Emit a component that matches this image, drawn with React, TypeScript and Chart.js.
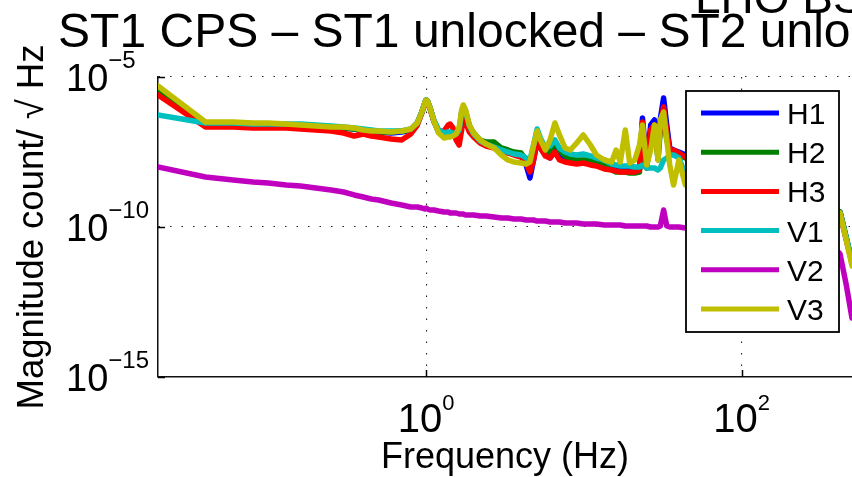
import React, { useEffect, useRef } from "react";
import { Chart, registerables } from "chart.js";

Chart.register(...registerables);

const freqs = [0.02, 0.04, 0.06, 0.08, 0.1, 0.13, 0.16, 0.2, 0.25, 0.3, 0.35, 0.4, 0.45, 0.5, 0.6, 0.7, 0.8, 0.88, 0.94, 0.98, 1.0, 1.02, 1.06, 1.12, 1.2, 1.3, 1.38, 1.42, 1.48, 1.55, 1.62, 1.68, 1.72, 1.78, 1.88, 2.0, 2.2, 2.4, 2.7, 3.0, 3.3, 3.6, 4.0, 4.3, 4.55, 4.8, 5.05, 5.3, 5.7, 6.1, 6.55, 7.0, 7.6, 8.2, 9.0, 9.9, 11, 12, 13.5, 15, 16, 17, 18.3, 19.5, 21, 22.5, 23.5, 25, 26.5, 28, 29.5, 30.5, 32, 33.5, 35, 37, 40, 44, 55, 70, 90, 120, 160, 200, 260, 320, 380, 420, 460, 500];

const h1 = [
  3.41e-6, 2.93e-7, 2.71e-7, 2.71e-7, 2.71e-7, 2.51e-7, 2.33e-7, 2.15e-7, 2.15e-7, 2.0e-7,
  1.85e-7, 1.58e-7, 1.47e-7, 1.47e-7, 1.36e-7, 1.47e-7, 1.71e-7, 2.93e-7, 6.81e-7, 1.36e-6,
  1.71e-6, 1.58e-6, 9.26e-7, 3.41e-7, 1.47e-7, 1.08e-7, 1.26e-7, 1.26e-7, 1.26e-7, 1.08e-7,
  9.26e-8, 6.31e-7, 1.0e-6, 6.81e-7, 2.33e-7, 1.26e-7, 7.36e-8, 5.41e-8, 4.64e-8, 3.69e-8,
  3.16e-8, 2.71e-8, 2.33e-8, 1.17e-8, 4.3e-9, 1.71e-8, 7.94e-8, 4.3e-8, 2.51e-8, 2.0e-8,
  3.69e-8, 2.0e-8, 1.71e-8, 1.58e-8, 1.47e-8, 1.47e-8, 1.36e-8, 1.17e-8, 1.0e-8, 8.58e-9,
  7.94e-9, 7.94e-9, 7.94e-9, 7.36e-9, 7.36e-9, 9.26e-9, 4.3e-7, 1.17e-8, 2.51e-7, 3.69e-7,
  3.69e-8, 3.98e-7, 2.0e-6, 2.51e-7, 4.3e-8, 3.69e-8, 3.16e-8, 2.51e-8, 1.17e-8, 6.81e-9,
  4.3e-9, 2.51e-9, 1.71e-9, 1.17e-9, 7.94e-10, 5.41e-10, 3.98e-10, 3.16e-10, 4.3e-11, 6.81e-12,
];

const h2 = [
  3.98e-6, 2.93e-7, 2.93e-7, 2.71e-7, 2.71e-7, 2.51e-7, 2.51e-7, 2.33e-7, 2.15e-7, 2.0e-7,
  1.85e-7, 1.71e-7, 1.58e-7, 1.47e-7, 1.47e-7, 1.58e-7, 1.71e-7, 2.93e-7, 6.81e-7, 1.36e-6,
  1.71e-6, 1.58e-6, 9.26e-7, 3.41e-7, 1.47e-7, 1.17e-7, 1.26e-7, 1.26e-7, 1.26e-7, 1.08e-7,
  9.26e-8, 6.31e-7, 1.0e-6, 6.81e-7, 2.33e-7, 1.36e-7, 7.94e-8, 6.81e-8, 6.81e-8, 4.3e-8,
  3.69e-8, 3.16e-8, 2.93e-8, 1.71e-8, 7.94e-9, 2.0e-8, 7.94e-8, 4.64e-8, 2.93e-8, 3.16e-8,
  6.81e-8, 3.69e-8, 2.33e-8, 2.0e-8, 1.71e-8, 1.71e-8, 1.71e-8, 1.58e-8, 1.26e-8, 7.94e-9,
  6.81e-9, 6.81e-9, 6.81e-9, 6.31e-9, 6.31e-9, 6.81e-9, 1.71e-7, 9.26e-9, 1.17e-7, 2.51e-7,
  1.71e-8, 1.71e-7, 5.41e-7, 7.94e-8, 3.69e-8, 3.16e-8, 2.51e-8, 2.0e-8, 1.17e-8, 6.81e-9,
  4.3e-9, 2.51e-9, 1.71e-9, 1.17e-9, 7.94e-10, 5.41e-10, 3.98e-10, 3.16e-10, 4.3e-11, 6.81e-12,
];

const h3 = [
  2.51e-6, 2.15e-7, 2.15e-7, 2.0e-7, 2.0e-7, 2.0e-7, 1.85e-7, 1.71e-7, 1.58e-7, 1.36e-7,
  1.08e-7, 1.26e-7, 1.08e-7, 1.0e-7, 8.58e-8, 7.94e-8, 1.26e-7, 2.51e-7, 6.31e-7, 1.26e-6,
  1.58e-6, 1.47e-6, 8.58e-7, 3.41e-7, 1.58e-7, 1.58e-7, 2.51e-7, 2.71e-7, 2.0e-7, 7.94e-8,
  5.41e-8, 1.71e-7, 4.3e-7, 3.16e-7, 1.47e-7, 1.0e-7, 6.31e-8, 5.01e-8, 4.3e-8, 3.41e-8,
  2.93e-8, 2.51e-8, 2.15e-8, 1.36e-8, 6.81e-9, 1.71e-8, 6.81e-8, 4.3e-8, 2.33e-8, 2.0e-8,
  3.16e-8, 1.71e-8, 1.47e-8, 1.36e-8, 1.26e-8, 1.36e-8, 1.17e-8, 1.08e-8, 8.58e-9, 7.94e-9,
  7.36e-9, 6.81e-9, 6.81e-9, 6.81e-9, 6.81e-9, 7.94e-9, 3.16e-7, 9.26e-9, 1.71e-7, 2.51e-7,
  2.51e-8, 2.51e-7, 1.0e-6, 1.47e-7, 3.69e-8, 3.69e-8, 2.93e-8, 2.15e-8, 1.17e-8, 6.81e-9,
  4.3e-9, 2.51e-9, 1.71e-9, 1.17e-9, 7.94e-10, 5.41e-10, 3.98e-10, 2.71e-10, 3.69e-11, 6.31e-12,
];

const v1 = [
  5.41e-7, 2.93e-7, 2.93e-7, 2.71e-7, 2.71e-7, 2.71e-7, 2.71e-7, 2.51e-7, 2.33e-7, 2.15e-7,
  2.0e-7, 1.85e-7, 1.71e-7, 1.58e-7, 1.58e-7, 1.58e-7, 1.85e-7, 2.93e-7, 6.81e-7, 1.36e-6,
  1.71e-6, 1.58e-6, 9.26e-7, 3.69e-7, 1.71e-7, 1.36e-7, 1.47e-7, 1.47e-7, 1.36e-7, 1.26e-7,
  1.71e-7, 6.81e-7, 1.0e-6, 6.81e-7, 2.33e-7, 1.26e-7, 7.36e-8, 5.84e-8, 4.64e-8, 3.69e-8,
  3.16e-8, 2.71e-8, 2.51e-8, 2.0e-8, 1.71e-8, 5.41e-8, 1.85e-7, 9.26e-8, 4.3e-8, 5.01e-8,
  7.94e-8, 4.3e-8, 3.16e-8, 2.71e-8, 2.51e-8, 2.71e-8, 2.33e-8, 2.0e-8, 1.71e-8, 1.26e-8,
  1.17e-8, 1.08e-8, 1.08e-8, 1.08e-8, 1.0e-8, 1.0e-8, 1.17e-8, 9.26e-9, 9.26e-9, 9.26e-9,
  7.94e-9, 9.26e-9, 1.71e-8, 2.0e-8, 2.51e-8, 2.51e-8, 2.0e-8, 5.41e-9, 6.81e-9, 4.3e-9,
  2.93e-9, 2.0e-9, 1.36e-9, 1.0e-9, 6.81e-10, 5.01e-10, 3.98e-10, 2.93e-10, 4.3e-11, 6.81e-12,
];

const v2 = [
  1.0e-8, 4.64e-9, 3.69e-9, 3.16e-9, 2.93e-9, 2.51e-9, 2.33e-9, 2.0e-9, 1.71e-9, 1.47e-9,
  1.17e-9, 1.0e-9, 8.58e-10, 7.94e-10, 6.31e-10, 5.41e-10, 4.64e-10, 4.64e-10, 4.3e-10, 3.98e-10,
  4.3e-10, 3.98e-10, 3.69e-10, 3.69e-10, 3.41e-10, 3.16e-10, 3.16e-10, 2.93e-10, 2.93e-10, 2.93e-10,
  2.71e-10, 2.71e-10, 2.71e-10, 2.51e-10, 2.51e-10, 2.51e-10, 2.33e-10, 2.33e-10, 2.15e-10, 2.0e-10,
  2.0e-10, 1.85e-10, 1.85e-10, 1.71e-10, 1.71e-10, 1.71e-10, 1.58e-10, 1.58e-10, 1.58e-10, 1.47e-10,
  1.47e-10, 1.47e-10, 1.36e-10, 1.36e-10, 1.36e-10, 1.26e-10, 1.26e-10, 1.26e-10, 1.17e-10, 1.17e-10,
  1.17e-10, 1.17e-10, 1.08e-10, 1.08e-10, 1.08e-10, 1.08e-10, 1.08e-10, 1.08e-10, 1.0e-10, 1.0e-10,
  1.0e-10, 1.08e-10, 3.69e-10, 1.08e-10, 1.0e-10, 1.0e-10, 1.0e-10, 9.26e-11, 9.26e-11, 8.58e-11,
  7.94e-11, 7.36e-11, 6.81e-11, 5.84e-11, 4.64e-11, 3.16e-11, 2.15e-11, 1.26e-11, 1.17e-12, 9.26e-14,
];

const v3 = [
  5.01e-6, 3.16e-7, 3.16e-7, 2.93e-7, 2.93e-7, 2.71e-7, 2.51e-7, 2.33e-7, 2.15e-7, 2.15e-7,
  2.0e-7, 1.71e-7, 1.58e-7, 1.58e-7, 1.47e-7, 1.58e-7, 1.85e-7, 2.93e-7, 6.81e-7, 1.36e-6,
  1.71e-6, 1.58e-6, 9.26e-7, 3.41e-7, 1.36e-7, 9.26e-8, 1.0e-7, 1.0e-7, 1.08e-7, 1.26e-7,
  2.15e-7, 7.94e-7, 1.17e-6, 7.94e-7, 2.51e-7, 1.36e-7, 7.94e-8, 5.84e-8, 4.3e-8, 2.51e-8,
  1.71e-8, 1.47e-8, 1.36e-8, 1.26e-8, 1.47e-8, 5.41e-8, 1.58e-7, 7.94e-8, 3.69e-8, 7.94e-8,
  2.93e-7, 1.17e-7, 4.3e-8, 3.69e-8, 6.31e-8, 1.17e-7, 5.41e-8, 2.51e-8, 1.71e-8, 1.47e-8,
  3.69e-8, 1.47e-8, 1.71e-7, 1.36e-8, 1.71e-8, 5.41e-8, 2.51e-7, 1.17e-8, 3.69e-8, 2.51e-7,
  1.71e-8, 3.69e-7, 6.81e-7, 7.94e-8, 1.17e-8, 2.51e-9, 1.71e-8, 2.51e-9, 5.41e-9, 3.69e-9,
  2.51e-9, 1.71e-9, 1.17e-9, 9.26e-10, 6.81e-10, 5.01e-10, 3.98e-10, 2.93e-10, 3.69e-11, 5.01e-12,
];

const seriesLabels = ["H1", "H2", "H3", "V1", "V2", "V3"];
const seriesColors = ["#0000ff", "#008000", "#ff0000", "#00bfbf", "#bf00bf", "#bfbf00"];
const seriesValues = [h1, h2, h3, v1, v2, v3];

const xTickValues = [1, 100];
const xTickExponents = ["0", "2"];
const yTickValues = [1e-15, 1e-10, 1e-5];
const yTickExponents = ["\u221215", "\u221210", "\u22125"];

const titleTop = "LHO BSC ISI";
const titleMain = "ST1 CPS \u2013 ST1 unlocked \u2013 ST2 unlocked";
const xAxisTitle = "Frequency (Hz)";
const yAxisTitle = "Magnitude count/ \u221A Hz";

const FONT = '"Liberation Sans", Arial, Helvetica, sans-serif';

const overlayPlugin = {
  id: "overlay",
  afterDraw(chart: any) {
    const ctx = chart.ctx as CanvasRenderingContext2D;
    const area = chart.chartArea;
    const xs = chart.scales.x;
    const ys = chart.scales.y;
    ctx.save();
    ctx.fillStyle = "#000";
    ctx.strokeStyle = "#000";
    ctx.lineWidth = 1.5;

    // inward tick marks
    xTickValues.forEach((v) => {
      const px = Math.round(xs.getPixelForValue(v)) + 0.5;
      ctx.beginPath();
      ctx.moveTo(px, area.bottom);
      ctx.lineTo(px, area.bottom - 7);
      ctx.stroke();
    });
    yTickValues.forEach((v) => {
      const py = Math.round(ys.getPixelForValue(v)) + 0.5;
      ctx.beginPath();
      ctx.moveTo(area.left, py);
      ctx.lineTo(area.left + 7, py);
      ctx.stroke();
    });

    ctx.textAlign = "left";
    ctx.textBaseline = "alphabetic";

    // x tick labels
    xTickValues.forEach((v, i) => {
      const px = xs.getPixelForValue(v);
      ctx.font = `40px ${FONT}`;
      const wb = ctx.measureText("10").width;
      ctx.font = `22px ${FONT}`;
      const ws = ctx.measureText(xTickExponents[i]).width;
      const left = px - (wb + ws) / 2;
      ctx.font = `40px ${FONT}`;
      ctx.fillText("10", left, area.bottom + 55);
      ctx.font = `22px ${FONT}`;
      ctx.fillText(xTickExponents[i], left + wb, area.bottom + 33);
    });

    // y tick labels
    yTickValues.forEach((v, i) => {
      const py = ys.getPixelForValue(v);
      const left = area.left - 92;
      ctx.font = `38px ${FONT}`;
      const wb = ctx.measureText("10").width;
      ctx.fillText("10", left, py + 14);
      ctx.font = `24px ${FONT}`;
      ctx.fillText(yTickExponents[i], left + wb, py - 9);
    });

    // axis titles
    ctx.textAlign = "center";
    ctx.font = `36px ${FONT}`;
    ctx.fillText(xAxisTitle, (area.left + area.right) / 2, area.bottom + 91);
    ctx.save();
    ctx.translate(43, (area.top + area.bottom) / 2);
    ctx.rotate(-Math.PI / 2);
    ctx.font = `36.5px ${FONT}`;
    ctx.fillText(yAxisTitle, 0, 0);
    ctx.restore();

    // titles
    ctx.font = `48px ${FONT}`;
    ctx.fillText(titleMain, (area.left + area.right) / 2, area.top - 30);
    ctx.textAlign = "left";
    ctx.font = `46px ${FONT}`;
    ctx.fillText(titleTop, 695, area.top - 64);

    // legend box
    const lx = area.right - 166;
    const ly = area.top + 14;
    const lw = 153;
    const lh = 241;
    ctx.fillStyle = "#fff";
    ctx.fillRect(lx, ly, lw, lh);
    ctx.lineWidth = 1.8;
    ctx.strokeStyle = "#000";
    ctx.strokeRect(lx, ly, lw, lh);
    chart.data.datasets.forEach((ds: any, i: number) => {
      const yy = ly + 22 + i * 39.2;
      ctx.strokeStyle = ds.borderColor;
      ctx.lineWidth = 5;
      ctx.beginPath();
      ctx.moveTo(lx + 15, yy);
      ctx.lineTo(lx + 93, yy);
      ctx.stroke();
      ctx.fillStyle = "#000";
      ctx.font = `30px ${FONT}`;
      ctx.textAlign = "left";
      ctx.fillText(ds.label, lx + 101, yy + 11);
    });
    ctx.restore();
  },
};

export default function App() {
  const canvasRef = useRef<HTMLCanvasElement | null>(null);

  useEffect(() => {
    const canvas = canvasRef.current;
    if (!canvas) return;
    const datasets = seriesValues.map((vals, i) => ({
      label: seriesLabels[i],
      data: freqs.map((f, j) => ({ x: f, y: vals[j] })),
      borderColor: seriesColors[i],
      backgroundColor: seriesColors[i],
      borderWidth: 5.5,
      pointRadius: 0,
      fill: false,
      tension: 0,
      borderJoinStyle: "round" as const,
      borderCapStyle: "round" as const,
      order: seriesLabels.length - 1 - i,
      clip: 0,
    }));

    const chart = new Chart(canvas, {
      type: "line",
      data: { datasets },
      options: {
        responsive: false,
        animation: false,
        events: [],
        layout: { padding: { left: 158, top: 77, right: 0, bottom: 100 } },
        plugins: {
          legend: { display: false },
          title: { display: false },
          tooltip: { enabled: false },
        },
        scales: {
          x: {
            type: "logarithmic",
            min: 0.02,
            max: 500,
            afterBuildTicks: (scale: any) => {
              scale.ticks = xTickValues.map((v) => ({ value: v }));
            },
            ticks: { display: false },
            grid: { color: "#222", lineWidth: 1.1, drawTicks: false },
            border: { display: true, color: "#111", width: 1.5, dash: [1.5, 10] },
          },
          y: {
            type: "logarithmic",
            min: 1e-15,
            max: 1e-5,
            afterBuildTicks: (scale: any) => {
              scale.ticks = yTickValues.map((v) => ({ value: v }));
            },
            ticks: { display: false },
            grid: { color: "#222", lineWidth: 1.1, drawTicks: false },
            border: { display: true, color: "#111", width: 1.5, dash: [1.5, 10] },
          },
        },
      },
      plugins: [overlayPlugin],
    });
    return () => chart.destroy();
  }, []);

  return (
    <div style={{ position: "fixed", left: 0, top: 0, width: 852, height: 477, overflow: "hidden", background: "#fff" }}>
      <canvas ref={canvasRef} width={852} height={477} style={{ width: 852, height: 477, display: "block" }} />
    </div>
  );
}
